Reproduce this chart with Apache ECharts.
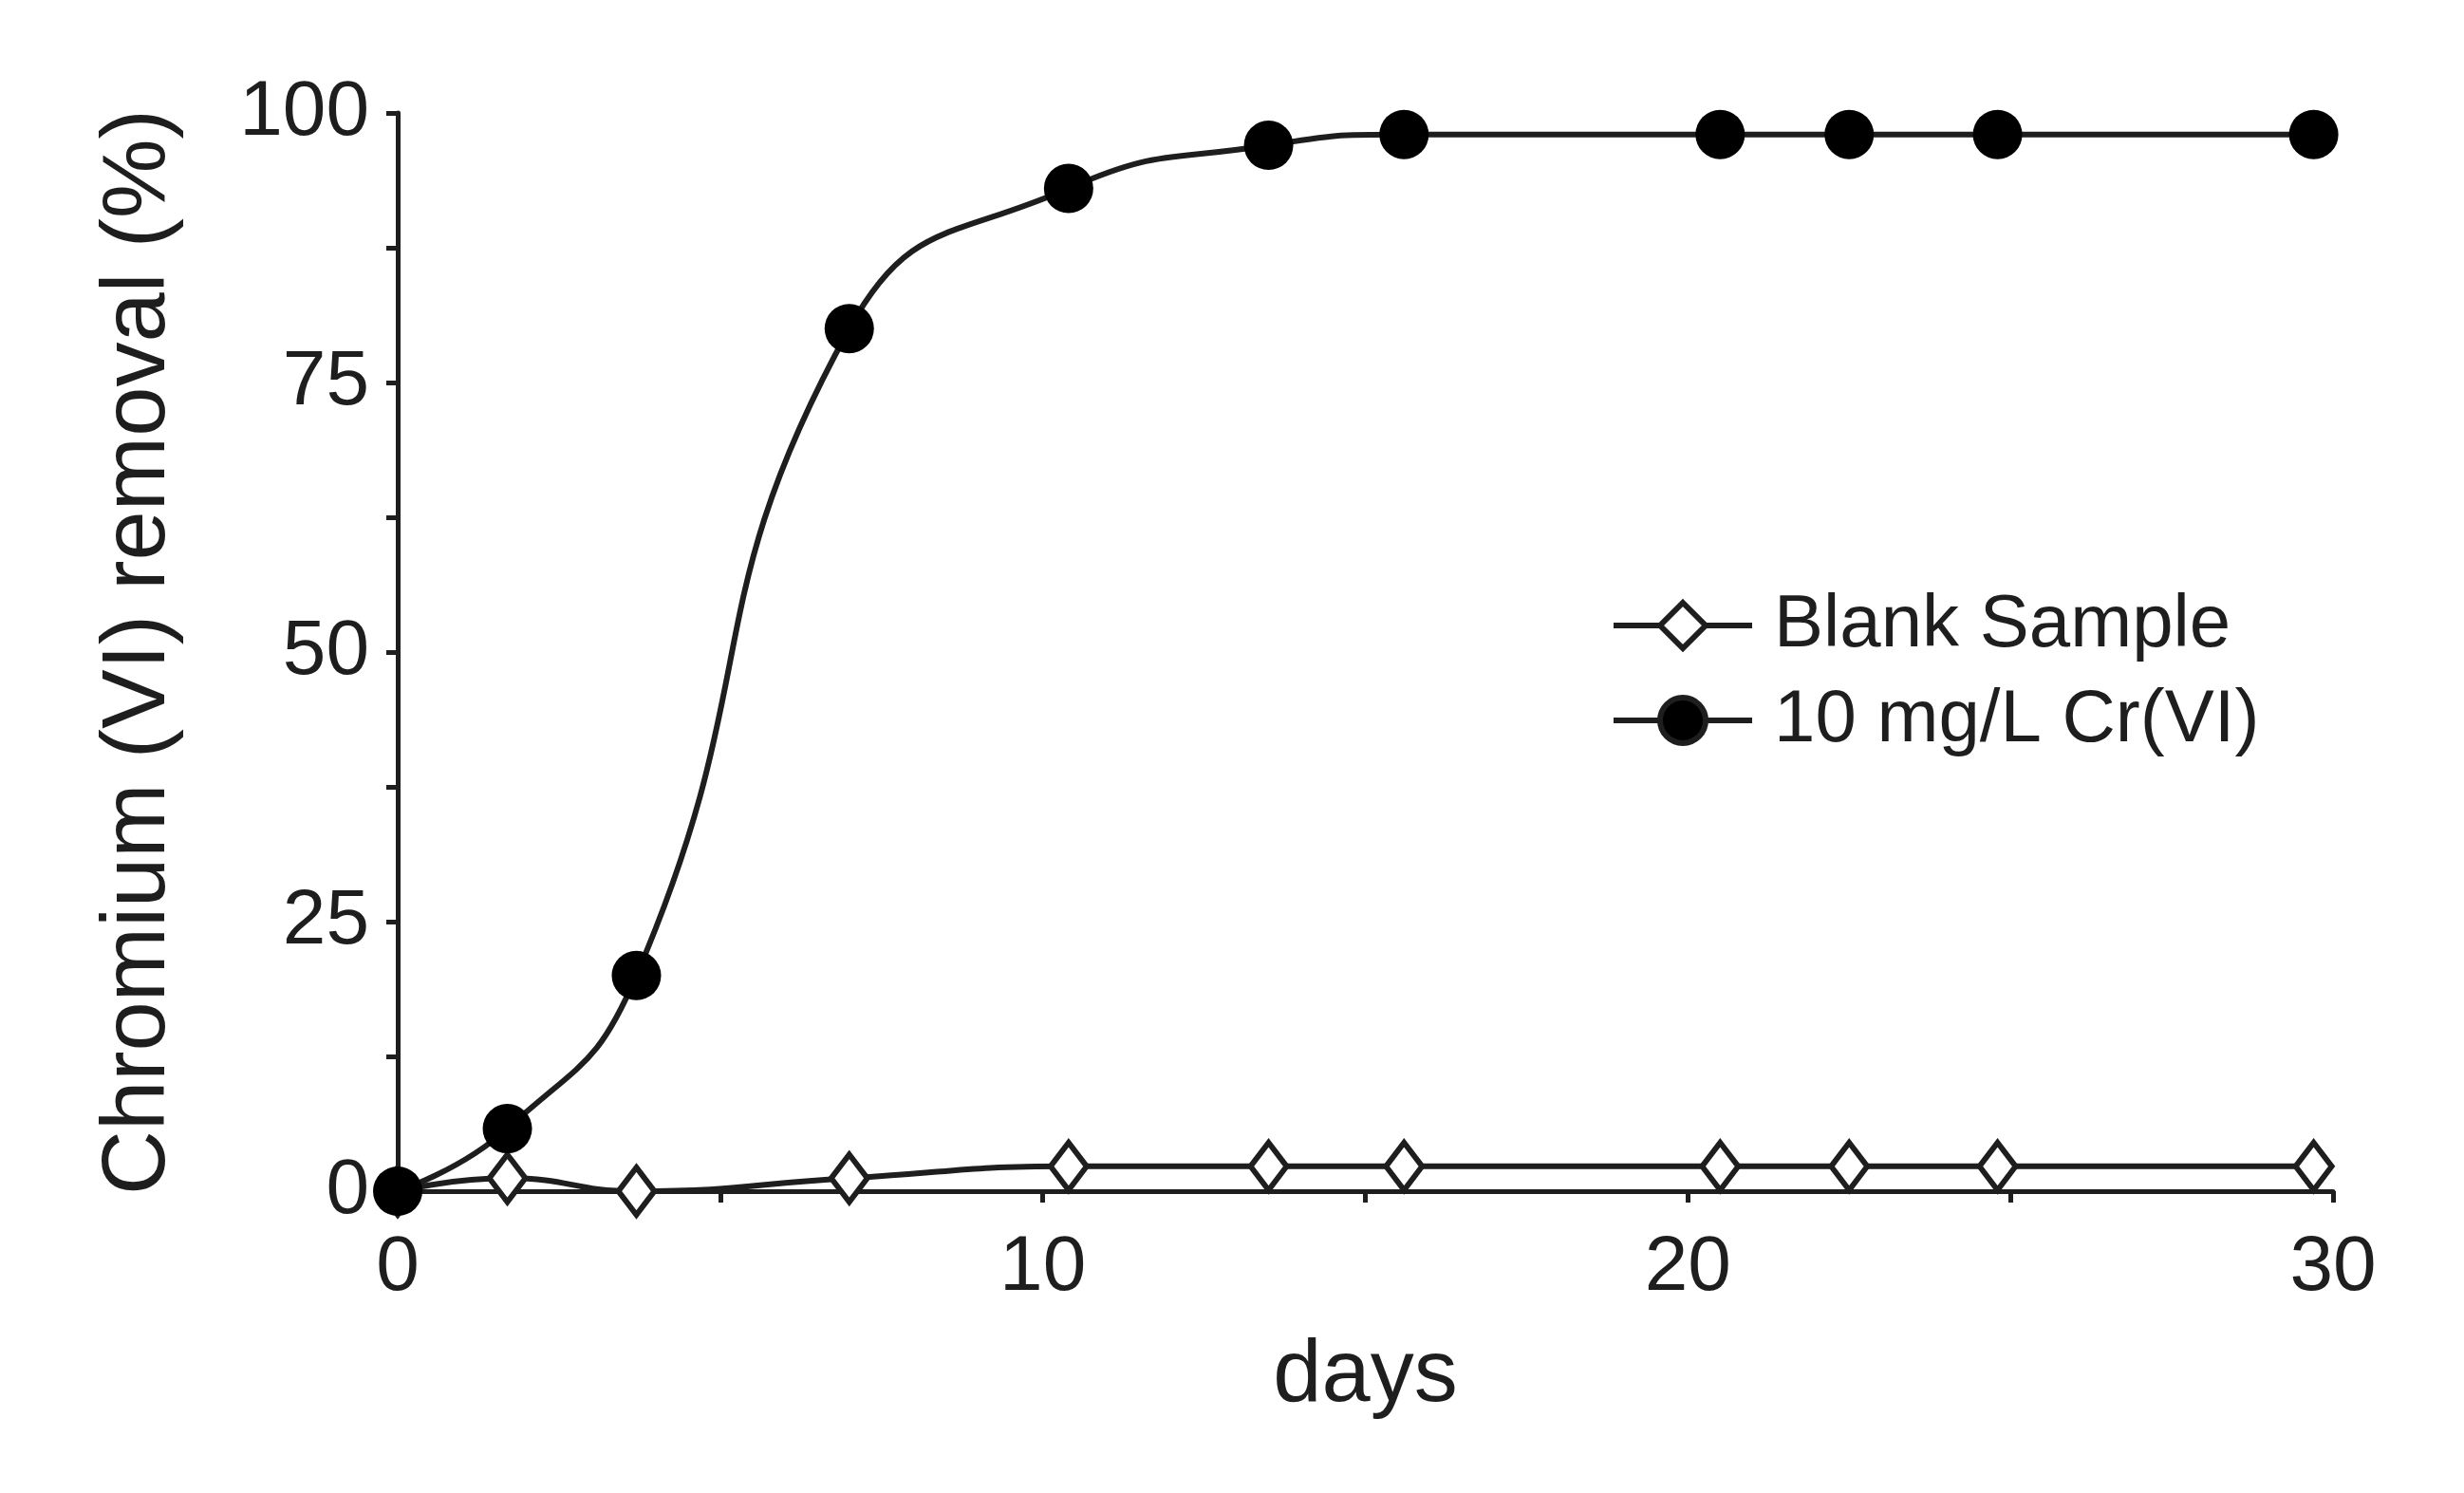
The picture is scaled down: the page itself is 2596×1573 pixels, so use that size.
<!DOCTYPE html>
<html>
<head>
<meta charset="utf-8">
<script src="https://cdn.jsdelivr.net/npm/echarts@6/dist/echarts.min.js"></script>
<style>
  html, body { margin: 0; padding: 0; background: #fff; }
  #main { width: 2596px; height: 1573px; }
</style>
</head>
<body>
<div id="main"></div>
<script>
// sampling days
const days = [0, 1.7, 3.7, 7, 10.4, 13.5, 15.6, 20.5, 22.5, 24.8, 29.7];
const blankSample = [0, 1.2, 0, 1.2, 2.3, 2.3, 2.3, 2.3, 2.3, 2.3, 2.3];
const crSample = [0, 5.8, 20, 80, 93, 97, 98, 98, 98, 98, 98];
const seriesNames = ["Blank Sample", "10 mg/L Cr(VI)"];

const font = "Liberation Sans, Arial, sans-serif";
const ink = "#1e1e1e";

const pairs = (ys) => days.map((d, i) => [d, ys[i]]);

const chart = echarts.init(document.getElementById("main"));

chart.setOption({
  backgroundColor: "#fff",
  animation: false,
  grid: { left: 419, right: 138, top: 119, bottom: 318 },
  legend: {
    orient: "vertical",
    left: 1692,
    top: 615,
    itemWidth: 146,
    itemHeight: 60,
    itemGap: 22,
    data: seriesNames,
    lineStyle: { width: 6, color: ink },
    itemStyle: { borderWidth: 6, borderColor: ink },
    textStyle: { fontFamily: font, fontSize: 78, color: ink, padding: [0, 0, 0, 18] }
  },
  xAxis: {
    type: "value",
    min: 0,
    max: 30,
    interval: 5,
    name: "days",
    nameLocation: "middle",
    nameGap: 150,
    nameTextStyle: { fontFamily: font, fontSize: 92, color: ink },
    splitLine: { show: false },
    axisLine: { lineStyle: { color: ink, width: 5 } },
    axisTick: { length: 12, lineStyle: { color: ink, width: 5 } },
    axisLabel: {
      fontFamily: font, fontSize: 82, color: ink, margin: 40,
      formatter: (v) => (v % 10 === 0 ? String(v) : "")
    }
  },
  yAxis: {
    type: "value",
    min: 0,
    max: 100,
    interval: 12.5,
    name: "Chromium (VI) removal (%)",
    nameLocation: "middle",
    nameRotate: 90,
    nameGap: 225,
    nameTextStyle: { fontFamily: font, fontSize: 94, color: ink },
    splitLine: { show: false },
    axisLine: { show: true, lineStyle: { color: ink, width: 5 } },
    axisTick: { show: true, length: 12, lineStyle: { color: ink, width: 5 } },
    axisLabel: {
      fontFamily: font, fontSize: 82, color: ink, margin: 30,
      formatter: (v) => (v % 25 === 0 ? String(v) : "")
    }
  },
  series: [
    {
      name: seriesNames[0],
      type: "line",
      smooth: 0.5,
      data: pairs(blankSample),
      symbol: "diamond",
      symbolSize: [38, 50],
      lineStyle: { color: ink, width: 6 },
      itemStyle: { color: "#fff", borderColor: ink, borderWidth: 6 },
      z: 2
    },
    {
      name: seriesNames[1],
      type: "line",
      smooth: 0.5,
      data: pairs(crSample),
      symbol: "circle",
      symbolSize: 52,
      lineStyle: { color: ink, width: 6 },
      itemStyle: { color: "#000", borderColor: "#000", borderWidth: 0 },
      z: 3
    }
  ]
});
</script>
</body>
</html>
